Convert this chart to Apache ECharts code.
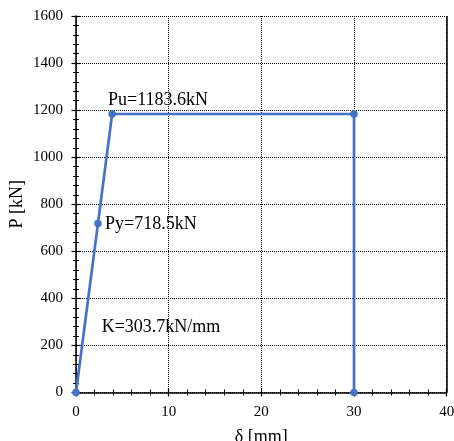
<!DOCTYPE html>
<html>
<head>
<meta charset="utf-8">
<script src="https://cdn.jsdelivr.net/npm/echarts@6/dist/echarts.min.js"></script>
<style>
  html, body { margin: 0; padding: 0; background: #fff; }
  #chart { width: 454px; height: 441px; }
</style>
</head>
<body>
<div id="chart"></div>
<script>
// load-displacement curve (delta in mm, P in kN)
const delta = [0, 2.37, 3.9, 30, 30]
const load = [0, 718.5, 1183.6, 1183.6, 0]

// annotations: [delta, P, text]
const notes = [
  [3.45, 1243, 'Pu=1183.6kN'],
  [3.13, 717, 'Py=718.5kN'],
  [2.77, 276, 'K=303.7kN/mm'],
]

const FONT = 'Liberation Serif'
const BLUE = '#4472C4'

const GRID = { left: 76, right: 7.3, top: 16, bottom: 48.5 }
const plotW = 454 - GRID.left - GRID.right
const plotH = 441 - GRID.top - GRID.bottom

const chart = echarts.init(document.getElementById('chart'))

const xBase = { type: 'value', min: 0, max: 40, interval: 10, gridIndex: 0 }
const yBase = { type: 'value', min: 0, max: 1600, interval: 200, gridIndex: 0 }
const tick = { lineStyle: { color: '#000', width: 1.2 } }
const minor = { show: true, splitNumber: 5, length: 3, lineStyle: { color: '#000', width: 1 } }

chart.setOption({
  animation: false,
  grid: { ...GRID, outerBoundsMode: 'none', containLabel: false },
  xAxis: [
    {
      ...xBase,
      position: 'bottom',
      name: 'δ [mm]',
      nameLocation: 'middle',
      nameGap: 36,
      nameMoveOverlap: false,
      nameTextStyle: { fontFamily: FONT, fontSize: 18, color: '#000' },
      axisLine: { onZero: false, lineStyle: { color: '#000', width: 1.5 } },
      axisTick: { ...tick, length: 4 },
      minorTick: minor,
      axisLabel: { margin: 12, fontFamily: FONT, fontSize: 15, color: '#000' },
      splitLine: { show: true, lineStyle: { color: '#000', type: 'dotted', width: 1 } },
    },
    {
      // mirror axis drawn onto the bottom edge so ticks cross the axis line
      ...xBase,
      position: 'top',
      offset: -plotH,
      axisLine: { show: false, onZero: false },
      axisTick: { ...tick, length: 4 },
      minorTick: minor,
      axisLabel: { show: false },
      splitLine: { show: false },
    },
  ],
  yAxis: [
    {
      ...yBase,
      position: 'left',
      name: 'P [kN]',
      nameLocation: 'middle',
      nameGap: 50,
      nameMoveOverlap: false,
      nameTextStyle: { fontFamily: FONT, fontSize: 18, color: '#000' },
      axisLine: { show: true, onZero: false, lineStyle: { color: '#000', width: 1.5 } },
      axisTick: { ...tick, show: true, length: 4.5 },
      minorTick: minor,
      axisLabel: { margin: 13, fontFamily: FONT, fontSize: 15, color: '#000', formatter: (v) => String(v) },
      splitLine: { show: true, lineStyle: { color: '#000', type: 'dotted', width: 1 } },
    },
    {
      // mirror axis drawn onto the left edge
      ...yBase,
      position: 'right',
      offset: -plotW,
      axisLine: { show: false, onZero: false },
      axisTick: { ...tick, show: true, length: 4.5 },
      minorTick: minor,
      axisLabel: { show: false },
      splitLine: { show: false },
    },
  ],
  series: [{
    type: 'line',
    xAxisIndex: 0,
    yAxisIndex: 0,
    data: delta.map((d, i) => [d, load[i]]),
    symbol: 'circle',
    symbolSize: 7.5,
    clip: false,
    lineStyle: { color: BLUE, width: 2.7 },
    itemStyle: { color: BLUE },
    markLine: {
      silent: true,
      symbol: 'none',
      label: { show: false },
      lineStyle: { color: '#000', type: 'solid', width: 1.5 },
      data: [{ xAxis: 40 }],
    },
    markPoint: {
      silent: true,
      symbol: 'circle',
      symbolSize: 0,
      data: notes.map(([x, y, t]) => ({
        coord: [x, y],
        value: t,
        label: {
          show: true,
          formatter: t,
          position: 'right',
          distance: 0,
          fontFamily: FONT,
          fontSize: 18,
          color: '#000',
        },
      })),
    },
  }],
})
</script>
</body>
</html>
